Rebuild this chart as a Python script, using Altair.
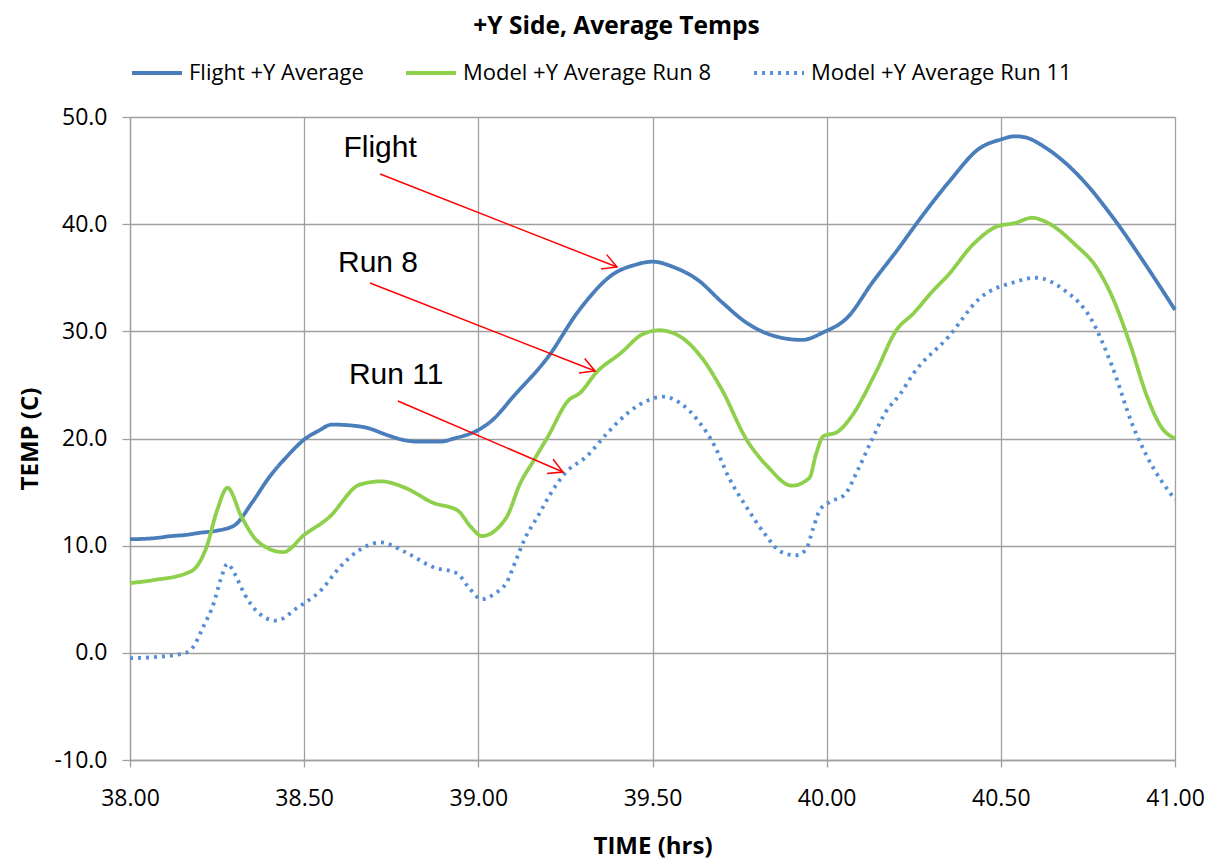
import math
import altair as alt
import pandas as pd

# ---------------- data ----------------
flight_t = [38.00, 38.07, 38.12, 38.16, 38.20, 38.25, 38.30, 38.35, 38.40, 38.45,
            38.50, 38.54, 38.58, 38.64, 38.68, 38.74, 38.78, 38.83, 38.89, 38.93,
            39.00, 39.04, 39.10, 39.20, 39.29, 39.39, 39.45, 39.50, 39.56, 39.63,
            39.70, 39.77, 39.87, 39.93, 39.99, 40.06, 40.13, 40.21, 40.25, 40.35,
            40.44, 40.50, 40.54, 40.57, 40.63, 40.73, 40.82, 40.92, 41.00]
flight_v = [10.6, 10.7, 10.9, 11.0, 11.2, 11.4, 11.9, 14.0, 16.4, 18.3,
            19.9, 20.7, 21.3, 21.2, 21.0, 20.3, 19.9, 19.7, 19.7, 20.0,
            20.8, 21.7, 23.9, 27.6, 32.0, 35.4, 36.2, 36.5, 36.0, 34.8,
            32.7, 30.8, 29.4, 29.2, 29.9, 31.3, 34.5, 37.9, 39.7, 43.9,
            47.1, 47.9, 48.2, 48.1, 47.1, 44.3, 40.7, 36.0, 32.0]

run8_t = [38.00, 38.07, 38.16, 38.19, 38.22, 38.25, 38.28, 38.32, 38.37, 38.44,
          38.50, 38.57, 38.66, 38.72, 38.79, 38.87, 38.94, 38.98, 39.01, 39.08,
          39.12, 39.16, 39.20, 39.26, 39.29, 39.34, 39.41, 39.47, 39.52, 39.58,
          39.64, 39.70, 39.77, 39.83, 39.90, 39.95, 39.97, 39.99, 40.03, 40.07,
          40.14, 40.20, 40.25, 40.30, 40.35, 40.42, 40.49, 40.54, 40.59, 40.63,
          40.71, 40.78, 40.82, 40.87, 40.92, 40.96, 41.00]
run8_v = [6.5, 6.8, 7.4, 8.0, 9.9, 13.3, 15.4, 12.7, 10.3, 9.4,
          11.0, 12.6, 15.7, 16.0, 15.4, 14.0, 13.3, 11.7, 10.9, 12.6,
          15.8, 18.0, 20.2, 23.6, 24.2, 26.2, 28.0, 29.7, 30.1, 29.5,
          27.6, 24.5, 19.9, 17.4, 15.6, 16.3, 18.6, 20.2, 20.6, 22.0,
          26.1, 30.1, 31.7, 33.6, 35.3, 38.1, 39.8, 40.1, 40.6, 40.2,
          38.2, 35.7, 33.2, 28.9, 23.9, 21.1, 20.0]

run11_t = [38.00, 38.07, 38.16, 38.18, 38.21, 38.24, 38.26, 38.28, 38.30, 38.33,
           38.37, 38.42, 38.48, 38.55, 38.60, 38.65, 38.72, 38.79, 38.87, 38.94,
           38.97, 39.01, 39.05, 39.08, 39.11, 39.13, 39.17, 39.22, 39.25, 39.31,
           39.37, 39.43, 39.49, 39.53, 39.58, 39.63, 39.68, 39.72, 39.77, 39.82,
           39.87, 39.91, 39.94, 39.96, 39.98, 40.01, 40.05, 40.09, 40.13, 40.17,
           40.21, 40.25, 40.35, 40.44, 40.54, 40.60, 40.68, 40.76, 40.82, 40.88,
           40.92, 41.00]
run11_v = [-0.5, -0.4, 0.0, 0.5, 2.4, 4.6, 6.8, 8.3, 7.4, 5.4,
           3.7, 3.0, 4.2, 5.9, 7.9, 9.4, 10.3, 9.4, 8.0, 7.4,
           6.2, 5.0, 5.6, 6.5, 8.8, 10.4, 12.7, 15.5, 16.8, 18.3,
           20.5, 22.4, 23.6, 23.9, 23.3, 21.7, 19.2, 16.3, 13.6, 11.2,
           9.4, 9.1, 9.6, 11.5, 13.3, 14.1, 14.7, 17.1, 19.9, 22.5,
           24.1, 26.1, 29.5, 33.1, 34.6, 35.0, 33.9, 31.1, 26.7, 21.1,
           18.3, 14.3]

series_names = ["Flight +Y Average", "Model +Y Average Run 8", "Model +Y Average Run 11"]
series_colors = ["#4A7EBB", "#8ED04C", "#558ED5"]
series_dash = [[1, 0], [1, 0], [3, 5]]

x_ticks = [38.0, 38.5, 39.0, 39.5, 40.0, 40.5, 41.0]
y_ticks = [-10, 0, 10, 20, 30, 40, 50]

# annotations: label, text anchor, arrow start, arrow end (data units)
ann_labels = ["Flight", "Run 8", "Run 11"]
ann_text_x = [38.718, 38.712, 38.764]
ann_text_y = [46.27, 35.54, 25.09]
arrow_x1 = [38.718, 38.689, 38.769]
arrow_y1 = [44.68, 34.51, 23.50]
arrow_x2 = [39.398, 39.335, 39.243]
arrow_y2 = [36.00, 26.30, 16.87]

# ---------------- build ----------------
W, H = 1045, 643
X_DOM = [38, 41]
Y_DOM = [-10, 50]
px_per_x = W / (X_DOM[1] - X_DOM[0])
px_per_y = H / (Y_DOM[1] - Y_DOM[0])

rows = []
for name, ts, vs in [(series_names[0], flight_t, flight_v),
                     (series_names[1], run8_t, run8_v),
                     (series_names[2], run11_t, run11_v)]:
    for t, v in zip(ts, vs):
        rows.append({"time": t, "temp": v, "series": name})
df = pd.DataFrame(rows)

ann = pd.DataFrame({
    "label": ann_labels, "tx": ann_text_x, "ty": ann_text_y,
    "x1": arrow_x1, "y1": arrow_y1, "x2": arrow_x2, "y2": arrow_y2,
})
ann["angle"] = [
    math.degrees(math.atan2((a - b) * px_per_y, (d - c) * px_per_x))
    for a, b, c, d in zip(ann["y1"], ann["y2"], ann["x1"], ann["x2"])
]

xs = alt.Scale(domain=X_DOM, nice=False, zero=False)
ys = alt.Scale(domain=Y_DOM, nice=False, zero=False)

FONT = "Open Sans"

x_axis = alt.Axis(values=x_ticks, format=".2f", title="TIME (hrs)",
                  labelFontSize=23, labelFont=FONT, labelColor="#000",
                  labelPadding=20, tickSize=7, labelFlush=False,
                  titleFont=FONT, titleFontSize=24, titleFontWeight="bold",
                  titlePadding=24, titleColor="#000")
y_axis = alt.Axis(values=y_ticks, title="TEMP (C)",
                  labelExpr="replace(format(datum.value, '.1f'), '\u2212', '-')",
                  labelFontSize=23, labelFont=FONT, labelColor="#000",
                  labelPadding=15, tickSize=8, labelFlush=False,
                  titleFont=FONT, titleFontSize=24, titleFontWeight="bold",
                  titlePadding=12, titleColor="#000")

lines = alt.Chart(df).mark_line(strokeWidth=3.8, interpolate="monotone").encode(
    x=alt.X("time:Q", scale=xs, axis=x_axis),
    y=alt.Y("temp:Q", scale=ys, axis=y_axis),
    color=alt.Color("series:N", scale=alt.Scale(domain=series_names, range=series_colors),
                    legend=alt.Legend(title=None, orient="none", direction="horizontal",
                                      columns=3, legendX=0, legendY=-71,
                                      symbolType="stroke", symbolSize=2500,
                                      symbolStrokeWidth=4, labelFont=FONT,
                                      labelFontSize=22, labelColor="#000",
                                      labelLimit=500, labelOffset=5,
                                      columnPadding=34, padding=0)),
    strokeDash=alt.StrokeDash("series:N",
                              scale=alt.Scale(domain=series_names, range=series_dash),
                              legend=alt.Legend(title=None, orient="none")),
    order=alt.Order("time:Q"),
)

arrows = alt.Chart(ann).mark_rule(color="#FF0000", strokeWidth=1.5).encode(
    x=alt.X("x1:Q", scale=xs), y=alt.Y("y1:Q", scale=ys),
    x2="x2:Q", y2="y2:Q",
)

heads = alt.Chart(ann).mark_point(
    shape="M-1,-0.55L0,0L-1,0.55", filled=False, color="#FF0000",
    strokeWidth=1.5, size=800, opacity=1,
).encode(
    x=alt.X("x2:Q", scale=xs), y=alt.Y("y2:Q", scale=ys),
    angle=alt.Angle("angle:Q", scale=None),
)

labels = alt.Chart(ann).mark_text(
    font="Liberation Sans", fontSize=30, color="#000", align="center",
    baseline="alphabetic",
).encode(
    x=alt.X("tx:Q", scale=xs), y=alt.Y("ty:Q", scale=ys), text="label:N",
)

chart = alt.layer(lines, arrows, heads, labels).properties(
    width=W, height=H,
    title=alt.TitleParams("+Y Side, Average Temps", font=FONT, fontSize=24.5,
                          fontWeight="bold", color="#000", anchor="middle",
                          offset=24, dx=-36, dy=17),
    autosize=alt.AutoSizeParams(type="none"),
    padding={"left": 122, "top": 109, "right": 34, "bottom": 99},
).configure_view(stroke=None).configure_axis(
    gridColor="#A0A0A0", gridWidth=1.3, domainColor="#A0A0A0", domainWidth=1.3,
    tickColor="#A0A0A0", tickWidth=1.3,
)

chart.save("out.html", embed_options={"renderer": "svg", "actions": False})
